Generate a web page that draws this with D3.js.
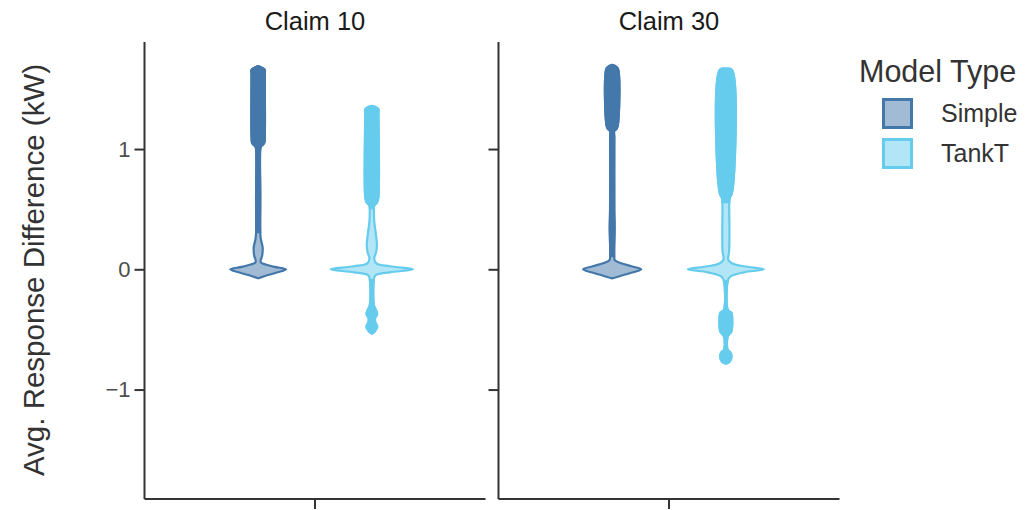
<!DOCTYPE html>
<html>
<head>
<meta charset="utf-8">
<script src="https://cdn.jsdelivr.net/npm/d3@7"></script>
<style>
  html, body { margin: 0; padding: 0; background: #fff; }
  svg { display: block; }
  text { font-family: "Liberation Sans", Arial, sans-serif; }
</style>
</head>
<body>
<svg id="chart" width="1035" height="511"></svg>
<script>
// Facets, groups and tick labels
const claims = ["Claim 10", "Claim 30"];
const modelTypes = ["Simple", "TankT"];
const modelColors = ["#4477AA", "#66CCEE"];
const yTicks = [-1, 0, 1];
const yTickLabels = ["\u22121", "0", "1"];

// Density profiles: [response difference (kW), relative density]
const densClaim10Simple = [
  [1.69, 0], [1.675, 0.13], [1.66, 0.22], [1.62, 0.22], [1.10, 0.22], [1.05, 0.2],
  [1.02, 0.09], [1.0, 0.07], [0.6, 0.07], [0.3, 0.07], [0.25, 0.09], [0.18, 0.15],
  [0.11, 0.13], [0.07, 0.08], [0.055, 0.1], [0.04, 0.25], [0.02, 0.55], [0.0, 0.93],
  [-0.025, 0.65], [-0.05, 0.3], [-0.07, 0.06], [-0.075, 0]
];
const densClaim10TankT = [
  [1.36, 0], [1.35, 0.12], [1.33, 0.22], [1.29, 0.22], [0.6, 0.22], [0.56, 0.18],
  [0.53, 0.08], [0.48, 0.07], [0.40, 0.08], [0.30, 0.13], [0.2, 0.17], [0.14, 0.14],
  [0.09, 0.08], [0.05, 0.15], [0.025, 0.6], [0.0, 1.38], [-0.025, 0.6], [-0.05, 0.12],
  [-0.08, 0.07], [-0.3, 0.07], [-0.33, 0.12], [-0.37, 0.18], [-0.405, 0.11], [-0.435, 0.11],
  [-0.48, 0.18], [-0.515, 0.1], [-0.535, 0]
];
const densClaim30Simple = [
  [1.70, 0], [1.69, 0.1], [1.67, 0.19], [1.2, 0.19], [1.17, 0.15], [1.15, 0.07],
  [1.1, 0.07], [0.5, 0.07], [0.35, 0.08], [0.1, 0.07], [0.075, 0.09], [0.05, 0.3],
  [0.025, 0.65], [0.0, 0.97], [-0.025, 0.7], [-0.05, 0.35], [-0.07, 0.08], [-0.075, 0]
];
const densClaim30TankT = [
  [1.67, 0], [1.66, 0.2], [0.63, 0.2], [0.60, 0.14], [0.58, 0.12], [0.3, 0.12],
  [0.15, 0.11], [0.08, 0.08], [0.05, 0.2], [0.025, 0.6], [0.0, 1.27], [-0.025, 0.6],
  [-0.06, 0.15], [-0.09, 0.07], [-0.34, 0.07], [-0.36, 0.18], [-0.52, 0.18], [-0.54, 0.11],
  [-0.56, 0.06], [-0.67, 0.06], [-0.69, 0.15], [-0.73, 0.19], [-0.77, 0.12], [-0.785, 0]
];
// Value ranges where the outline is so dense that the violin reads as solid colour
const solidClaim10Simple = [[0.3, 1.7]];
const solidClaim10TankT = [[0.5, 1.37], [-0.56, -0.08]];
const solidClaim30Simple = [[0.1, 1.71]];
const solidClaim30TankT = [[0.55, 1.68], [-0.8, -0.09]];

const violins = [
  { claim: "Claim 10", model: "Simple", dens: densClaim10Simple, solid: solidClaim10Simple },
  { claim: "Claim 10", model: "TankT",  dens: densClaim10TankT,  solid: solidClaim10TankT },
  { claim: "Claim 30", model: "Simple", dens: densClaim30Simple, solid: solidClaim30Simple },
  { claim: "Claim 30", model: "TankT",  dens: densClaim30TankT,  solid: solidClaim30TankT }
];

const svg = d3.select("#chart");
const panelTop = 42, panelBottom = 499;
const panelLefts = [144.5, 498.5];
const panelWidth = 341;

const y = d3.scaleLinear().domain([-1.91, 1.89]).range([panelBottom, panelTop]);
// discrete x inside each facet: one category, two dodged groups
const xInner = d3.scaleLinear().domain([0.4, 1.6]).range([0, panelWidth]);
const dodge = d3.scaleOrdinal().domain(modelTypes).range([-0.2, 0.2]);
const color = d3.scaleOrdinal().domain(modelTypes).range(modelColors);
const wScale = d3.scaleLinear().domain([0, 1]).range([0, 30]);

const defs = svg.append("defs");

claims.forEach((claim, i) => {
  const g = svg.append("g").attr("transform", `translate(${panelLefts[i]},0)`);

  // strip label
  g.append("text")
    .attr("x", xInner(1)).attr("y", 30)
    .attr("text-anchor", "middle")
    .attr("font-size", 25.5)
    .attr("fill", "#1a1a1a")
    .text(claim);

  // violins
  violins.filter(v => v.claim === claim).forEach((v, k) => {
    const cx = xInner(1 + dodge(v.model));
    const area = d3.area()
      .curve(d3.curveCatmullRom.alpha(0.5))
      .y(d => y(d[0]))
      .x0(d => cx - wScale(d[1]))
      .x1(d => cx + wScale(d[1]));
    const pathD = area(v.dens);
    const c = color(v.model);

    g.append("path")
      .attr("d", pathD)
      .attr("fill", c).attr("fill-opacity", 0.5)
      .attr("stroke", c).attr("stroke-width", 2.2)
      .attr("stroke-linejoin", "round");

    // dense stretches of the outline drawn as solid colour, clipped to their value range
    v.solid.forEach((r, j) => {
      const id = `clip-${i}-${k}-${j}`;
      defs.append("clipPath").attr("id", id)
        .attr("clipPathUnits", "userSpaceOnUse")
        .append("rect")
        .attr("x", cx - 40).attr("width", 80)
        .attr("y", y(r[1])).attr("height", y(r[0]) - y(r[1]));
      g.append("path")
        .attr("d", pathD)
        .attr("clip-path", `url(#${id})`)
        .attr("fill", c)
        .attr("stroke", c).attr("stroke-width", 2.2)
        .attr("stroke-linejoin", "round");
    });
  });

  // y axis
  const yAxis = d3.axisLeft(y).tickValues(yTicks).tickSize(10).tickPadding(4)
    .tickFormat((d, idx) => i === 0 ? yTickLabels[idx] : "");
  const ya = g.append("g").call(yAxis);
  ya.select(".domain").attr("d", `M0,${panelTop}V${panelBottom}`);
  ya.selectAll("path, line").attr("stroke", "#333").attr("stroke-width", 2);
  ya.selectAll("text").attr("font-size", 22).attr("fill", "#4d4d4d")
    .attr("font-family", "Liberation Sans, Arial, sans-serif");

  // x axis (single unlabelled category)
  const xa = g.append("g").attr("transform", `translate(0,${panelBottom})`);
  xa.append("line").attr("x1", 0).attr("x2", panelWidth)
    .attr("stroke", "#333").attr("stroke-width", 2);
  xa.append("line").attr("x1", xInner(1)).attr("x2", xInner(1)).attr("y1", 0).attr("y2", 10)
    .attr("stroke", "#333").attr("stroke-width", 2);
});

// y axis title
svg.append("text")
  .attr("transform", "translate(44,270) rotate(-90)")
  .attr("text-anchor", "middle")
  .attr("font-size", 29.5)
  .attr("fill", "#333")
  .text("Avg. Response Difference (kW)");

// legend
const legend = svg.append("g").attr("transform", "translate(859,0)");
legend.append("text").attr("x", 0).attr("y", 82)
  .attr("font-size", 30.5).attr("fill", "#333").text("Model Type");
modelTypes.forEach((m, i) => {
  const ky = 98 + i * 40;
  legend.append("rect")
    .attr("x", 24.5).attr("y", ky + 1.5).attr("width", 28).attr("height", 28)
    .attr("fill", color(m)).attr("fill-opacity", 0.5)
    .attr("stroke", color(m)).attr("stroke-width", 3);
  legend.append("text")
    .attr("x", 82).attr("y", ky + 15).attr("dy", "0.35em")
    .attr("font-size", 25).attr("fill", "#333").text(m);
});
</script>
</body>
</html>
